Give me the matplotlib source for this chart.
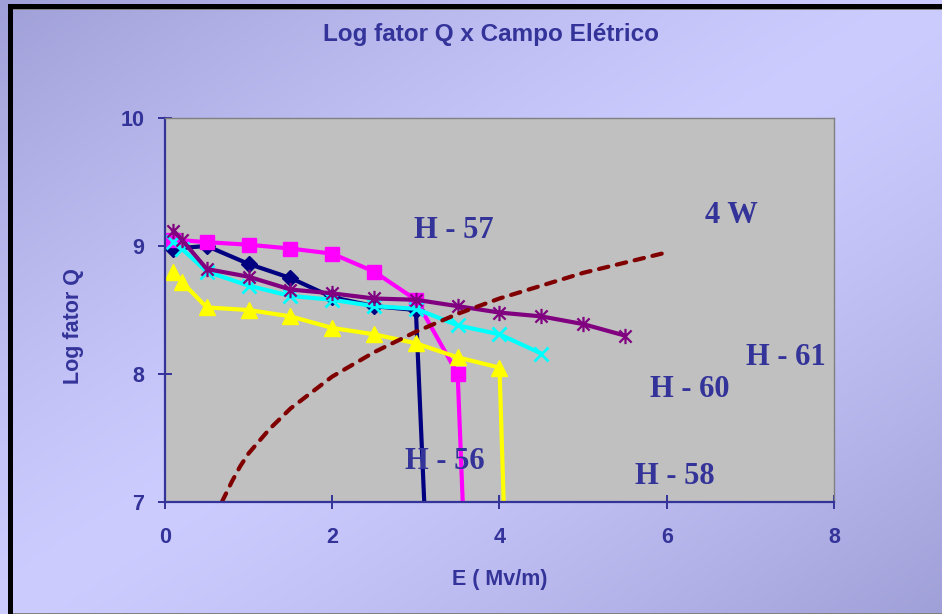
import numpy as np
import matplotlib
matplotlib.use("Agg")
import matplotlib.pyplot as plt
from matplotlib.path import Path
from matplotlib.patches import Rectangle

# ---- data ----
e_h56 = [0.1, 0.5, 1.0, 1.5, 2.0, 2.5, 3.0, 3.1]
q_h56 = [8.98, 9.00, 8.86, 8.75, 8.60, 8.53, 8.50, 7.0]

e_h57 = [0.1, 0.5, 1.0, 1.5, 2.0, 2.5, 3.0, 3.5, 3.56]
q_h57 = [9.05, 9.03, 9.01, 8.98, 8.94, 8.80, 8.58, 8.00, 7.0]

e_h58 = [0.1, 0.2, 0.5, 1.0, 1.5, 2.0, 2.5, 3.0, 3.5, 4.0, 4.05]
q_h58 = [8.80, 8.72, 8.52, 8.50, 8.45, 8.36, 8.31, 8.24, 8.13, 8.05, 7.0]

e_h60 = [0.1, 0.2, 0.5, 1.0, 1.5, 2.0, 2.5, 3.0, 3.5, 4.0, 4.5]
q_h60 = [9.03, 8.98, 8.80, 8.69, 8.61, 8.58, 8.53, 8.51, 8.38, 8.31, 8.16]

e_h61 = [0.1, 0.2, 0.5, 1.0, 1.5, 2.0, 2.5, 3.0, 3.5, 4.0, 4.5, 5.0, 5.5]
q_h61 = [9.12, 9.05, 8.82, 8.76, 8.66, 8.63, 8.59, 8.58, 8.53, 8.48, 8.45, 8.39, 8.30]

e_4w = [0.68, 0.8, 0.9, 1.0, 1.25, 1.5, 2.0, 2.5, 3.0, 3.5, 4.0, 4.5, 5.0, 5.5, 6.0]
q_4w = [7.0, 7.16, 7.28, 7.38, 7.57, 7.73, 7.98, 8.17, 8.33, 8.47, 8.59, 8.69, 8.79, 8.87, 8.95]

x_ticks = [0, 2, 4, 6, 8]
y_ticks = [7, 8, 9, 10]

labels = ["H - 57", "4 W", "H - 61", "H - 60", "H - 56", "H - 58"]
label_pos = [(3.45, 9.12), (6.77, 9.24), (7.42, 8.13), (6.28, 7.88), (3.35, 7.32), (6.10, 7.20)]

TEXT = "#333399"
W, H = 942, 614

fig = plt.figure(figsize=(W / 100, H / 100), dpi=100)

# ---- diagonal lavender gradient background ----
bg = fig.add_axes([0, 0, 1, 1], zorder=-10)
u = np.linspace(0, 1, W)[None, :]
v = np.linspace(0, 1, H)[:, None]
s = np.abs(u + v - 1.0)  # 0 on the anti-diagonal, 1 at TL/BR corners
s = s ** 1.3
light = np.array([204, 204, 255]) / 255
dark = np.array([160, 160, 216]) / 255
img = light[None, None, :] * (1 - s[..., None]) + dark[None, None, :] * s[..., None]
bg.imshow(img, aspect="auto", extent=[0, 1, 0, 1], origin="upper")
bg.set_xlim(0, 1)
bg.set_ylim(0, 1)
bg.axis("off")

# frame lines
fig.patches.append(Rectangle((8 / W, 0), 5 / W, (H - 4) / H, transform=fig.transFigure,
                             facecolor="black", edgecolor="none", zorder=5))
fig.patches.append(Rectangle((8 / W, 1 - 9 / H), 1 - 8 / W, 5 / H, transform=fig.transFigure,
                             facecolor="black", edgecolor="none", zorder=5))
fig.patches.append(Rectangle((13 / W, 1 - 10 / H), 1 - 13 / W, 1 / H, transform=fig.transFigure,
                             facecolor="#808080", edgecolor="none", zorder=5))
fig.patches.append(Rectangle((13 / W, 0), 1 - 13 / W, 1.5 / H, transform=fig.transFigure,
                             facecolor="#808080", edgecolor="none", zorder=5))

# ---- plot area ----
ax = fig.add_axes([165 / W, 1 - 502 / H, (834 - 165) / W, (502 - 118) / H])
ax.set_facecolor("#C0C0C0")
ax.set_xlim(0, 8)
ax.set_ylim(7, 10)

asterisk = Path([(-1, -1), (1, 1), (-1, 1), (1, -1), (0, -1.25), (0, 1.25)],
                [Path.MOVETO, Path.LINETO, Path.MOVETO, Path.LINETO, Path.MOVETO, Path.LINETO])

lw = 3.0
ax.plot(e_h56, q_h56, color="#000080", lw=lw, marker="D", ms=8,
        markevery=slice(0, -1), solid_joinstyle="round")
ax.plot(e_h57, q_h57, color="#FF00FF", lw=lw, marker="s", ms=10,
        markevery=slice(0, -1), solid_joinstyle="round")
ax.plot(e_h58, q_h58, color="#FFFF00", lw=lw, marker="^", ms=11,
        markevery=slice(0, -1), solid_joinstyle="round")
ax.plot(e_h60, q_h60, color="#00FFFF", lw=lw, marker="x", ms=10, mew=2,
        solid_joinstyle="round")
ax.plot(e_h61, q_h61, color="#800080", lw=lw, marker=asterisk, ms=11, mew=1.6,
        solid_joinstyle="round")
dash, = ax.plot(e_4w, q_4w, color="#800000", lw=3.0, dash_capstyle="round")
dash.set_dashes((2.3, 2.1))

for txt, (x, y) in zip(labels, label_pos):
    ax.text(x, y, txt, color=TEXT, fontsize=22, fontweight="bold",
            family="Liberation Serif", ha="center", va="center", clip_on=False)

# spines and ticks
for side in ("left", "bottom"):
    ax.spines[side].set_color(TEXT)
    ax.spines[side].set_linewidth(1.6)
for side in ("top", "right"):
    ax.spines[side].set_color("#808080")
    ax.spines[side].set_linewidth(1.0)

ax.set_xticks(x_ticks)
ax.set_yticks(y_ticks)
ax.tick_params(axis="both", direction="inout", length=10, width=1.4, color=TEXT,
               labelcolor=TEXT, labelsize=15.5)
ax.tick_params(axis="x", pad=13)
ax.tick_params(axis="y", pad=10)
for lab in ax.get_xticklabels() + ax.get_yticklabels():
    lab.set_fontweight("bold")
    lab.set_family("Liberation Sans")

fig.text(491 / W, 1 - 35 / H, "Log fator Q x Campo Elétrico", color=TEXT,
         fontsize=17.5, fontweight="bold", family="Liberation Sans",
         ha="center", va="center")
fig.text(500 / W, 1 - 580 / H, "E ( Mv/m)", color=TEXT, fontsize=15.5,
         fontweight="bold", family="Liberation Sans", ha="center", va="center")
fig.text(74 / W, 1 - 326 / H, "Log fator Q", color=TEXT, fontsize=15.5,
         fontweight="bold", family="Liberation Sans", ha="center", va="center",
         rotation=90)

fig.savefig("out.png", dpi=100)
